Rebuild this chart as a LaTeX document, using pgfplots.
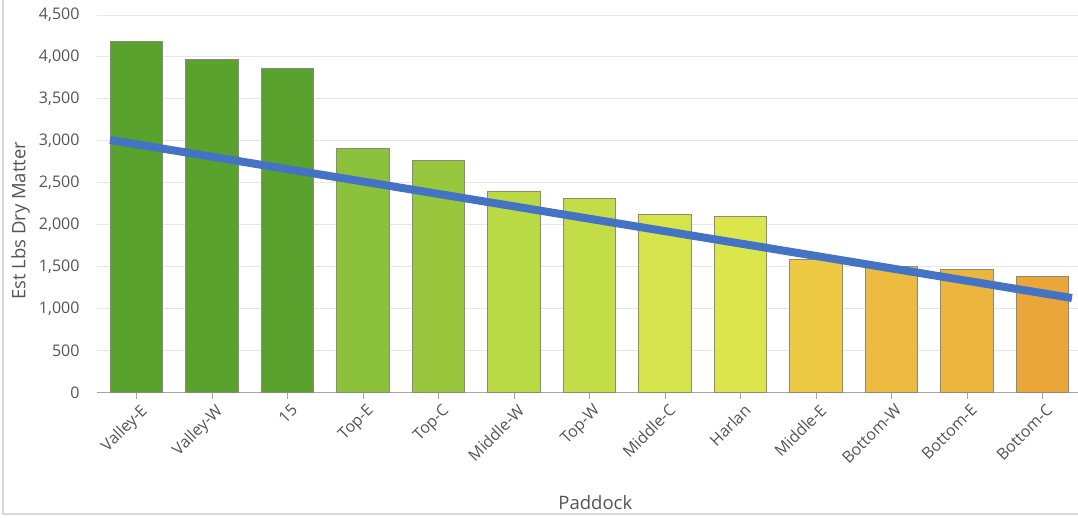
\documentclass[border=0pt]{standalone}
\usepackage{pgfplots}
\pgfplotsset{compat=1.18}
\usepackage{fontspec}
\setmainfont{Open Sans}

\definecolor{txt}{HTML}{555555}
\definecolor{gridc}{HTML}{E6E6E6}
\definecolor{edgec}{HTML}{8A8A78}
\definecolor{trend}{HTML}{4472C4}
\definecolor{c0}{HTML}{58A22D}
\definecolor{c1}{HTML}{58A22D}
\definecolor{c2}{HTML}{58A22D}
\definecolor{c3}{HTML}{8CC23B}
\definecolor{c4}{HTML}{98C63D}
\definecolor{c5}{HTML}{B9DA44}
\definecolor{c6}{HTML}{C2DD46}
\definecolor{c7}{HTML}{D5E44A}
\definecolor{c8}{HTML}{DAE64B}
\definecolor{c9}{HTML}{EEC944}
\definecolor{c10}{HTML}{EDBB40}
\definecolor{c11}{HTML}{ECB63E}
\definecolor{c12}{HTML}{EBA63A}

\begin{document}
\begin{tikzpicture}[x=1pt,y=1pt]
\useasboundingbox (0,0) rectangle (1078,517);
\fill[white] (0,0) rectangle (1078,517);
% light frame on the left and bottom
\draw[color=black!15, line width=1.8pt] (3.3,517) -- (3.3,3) -- (1078,3);
\begin{axis}[
  at={(97pt,124.3pt)}, anchor=south west,
  scale only axis, width=981pt, height=377.7pt,
  xmin=-0.523, xmax=12.47,
  ymin=0, ymax=4500,
  ytick={0,500,...,4500},
  xtick={0,...,12},
  xticklabels={Valley-E,Valley-W,15,Top-E,Top-C,Middle-W,Top-W,Middle-C,Harlan,Middle-E,Bottom-W,Bottom-E,Bottom-C},
  axis x line*=bottom, axis y line*=left,
  x axis line style={draw=black!35, line width=1pt},
  y axis line style={draw=none},
  ytick style={draw=none},
  xtick style={draw=black!35, line width=0.8pt},
  tick align=outside, major tick length=6pt,
  ymajorgrids, grid style={gridc, line width=1pt},
  /pgf/number format/assume math mode=true,
  /pgf/number format/.cd, 1000 sep={,}, /pgfplots/.cd,
  ticklabel style={font=\fontsize{16}{18}\selectfont, text=txt},
  yticklabel style={xshift=-8pt},
  xticklabel style={rotate=45, anchor=north east, inner sep=1pt, yshift=-4pt},
  xlabel={Paddock},
  ylabel={Est Lbs Dry Matter},
  label style={font=\fontsize{18.5}{20}\selectfont, text=txt},
  xlabel style={at={(axis description cs:0.508,-0.292)}, anchor=center},
  ylabel style={at={(axis description cs:-0.078,0.455)}, anchor=center, rotate=0},
  ybar, bar width=0.7,
  every axis plot/.append style={bar shift=0pt, draw=edgec, line width=1pt},
  clip=false,
]
\addplot[fill=c0]  coordinates {(0,4190)};
\addplot[fill=c1]  coordinates {(1,3964)};
\addplot[fill=c2]  coordinates {(2,3860)};
\addplot[fill=c3]  coordinates {(3,2912)};
\addplot[fill=c4]  coordinates {(4,2764)};
\addplot[fill=c5]  coordinates {(5,2395)};
\addplot[fill=c6]  coordinates {(6,2311)};
\addplot[fill=c7]  coordinates {(7,2125)};
\addplot[fill=c8]  coordinates {(8,2105)};
\addplot[fill=c9]  coordinates {(9,1589)};
\addplot[fill=c10] coordinates {(10,1509)};
\addplot[fill=c11] coordinates {(11,1465)};
\addplot[fill=c12] coordinates {(12,1382)};
% trend line across all paddocks
\addplot[sharp plot, draw=trend, line width=8pt, no marks] coordinates {(-0.35,3011) (12.39,1128)};
\end{axis}
\end{tikzpicture}
\end{document}
